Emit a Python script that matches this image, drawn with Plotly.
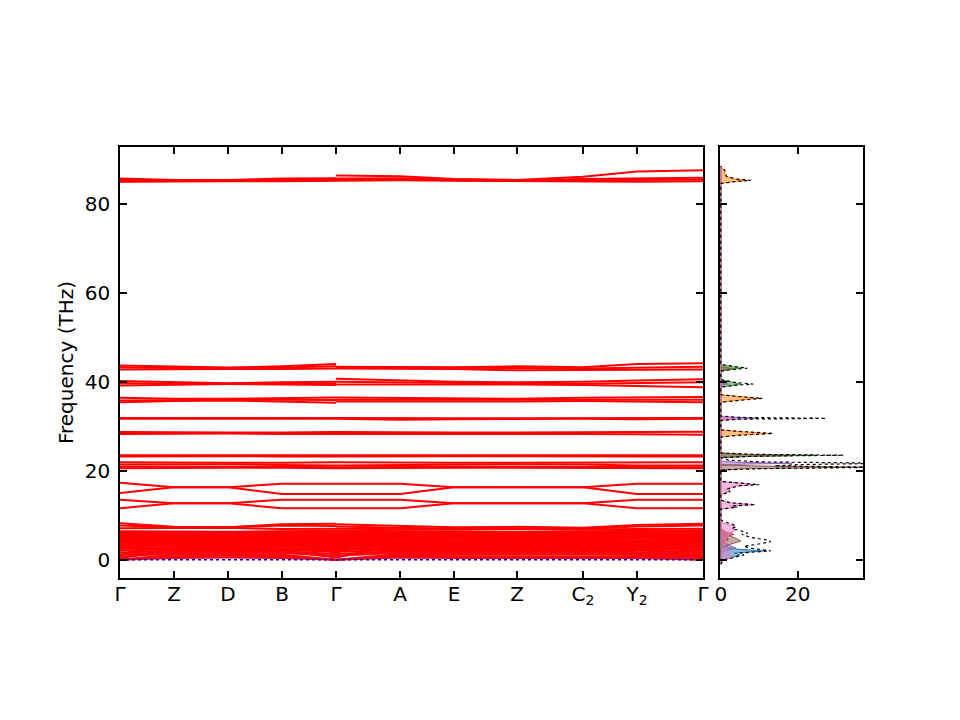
import plotly.graph_objects as go

# ---------------- data ----------------
kpt_labels = ["Γ", "Z", "D", "B", "Γ", "A", "E", "Z", "C<sub>2</sub>", "Y<sub>2</sub>", "Γ"]
kpt_dist = [0.0, 0.54, 1.08, 1.62, 2.16, 2.80, 3.34, 3.97, 4.63, 5.17, 5.83]

# band frequencies (THz) at the high-symmetry points
# segment 1: Γ-Z-D-B-Γ
bands_seg1 = [
    [85.7, 85.4, 85.4, 85.7, 85.8], [85.4, 85.3, 85.3, 85.5, 85.6],
    [85.1, 85.2, 85.2, 85.3, 85.3], [85.0, 85.1, 85.1, 85.1, 85.2],
    [43.7, 43.4, 43.2, 43.5, 44.0], [43.3, 43.1, 43.1, 43.2, 43.5],
    [42.8, 42.9, 42.9, 42.9, 43.0],
    [40.2, 39.9, 39.7, 39.9, 40.0], [39.7, 39.6, 39.6, 39.6, 39.7],
    [39.2, 39.4, 39.5, 39.4, 39.3],
    [36.4, 36.2, 36.2, 36.3, 36.5], [35.8, 35.9, 36.0, 36.0, 35.9],
    [35.4, 35.7, 35.8, 35.6, 35.3],
    [31.9, 31.9, 31.8, 31.9, 31.9], [31.7, 31.7, 31.7, 31.7, 31.7],
    [28.7, 28.6, 28.6, 28.6, 28.7], [28.3, 28.4, 28.4, 28.3, 28.3],
    [23.5, 23.5, 23.5, 23.5, 23.5], [23.2, 23.3, 23.3, 23.2, 23.2],
    [21.9, 21.8, 21.8, 21.8, 21.9], [21.4, 21.5, 21.5, 21.3, 21.2],
    [20.9, 20.9, 21.0, 20.9, 20.8], [20.6, 20.7, 20.7, 20.7, 20.6],
    [17.3, 16.3, 16.3, 17.1, 17.1], [15.0, 16.3, 16.3, 14.8, 14.8],
    [13.5, 12.7, 12.7, 13.5, 13.5], [11.6, 12.7, 12.7, 11.6, 11.6],
    [8.2, 7.4, 7.3, 8.0, 8.1], [7.7, 7.3, 7.3, 7.7, 7.6],
    [7.1, 7.2, 7.2, 6.9, 7.0],
    [0.0, 0.4, 0.5, 0.4, 0.0], [0.0, 0.8, 0.9, 0.8, 0.0],
    [0.0, 1.2, 1.3, 1.1, 0.0], [0.7, 1.5, 1.6, 1.5, 0.9],
    [1.1, 1.8, 1.9, 1.9, 1.3], [1.6, 2.1, 2.2, 2.2, 1.8],
    [2.0, 2.4, 2.5, 2.4, 2.2], [2.4, 2.7, 2.7, 2.6, 2.5],
    [2.7, 2.9, 3.0, 2.9, 2.8], [3.0, 3.2, 3.2, 3.1, 3.1],
    [3.3, 3.4, 3.5, 3.4, 3.3], [3.5, 3.7, 3.7, 3.6, 3.6],
    [3.8, 3.9, 4.0, 3.9, 3.8], [4.1, 4.2, 4.2, 4.1, 4.1],
    [4.3, 4.4, 4.5, 4.4, 4.3], [4.6, 4.7, 4.7, 4.6, 4.6],
    [4.9, 4.9, 5.0, 4.9, 4.8], [5.1, 5.2, 5.2, 5.1, 5.1],
    [5.4, 5.4, 5.5, 5.4, 5.4], [5.7, 5.7, 5.7, 5.6, 5.6],
    [5.9, 5.9, 6.0, 5.9, 5.9], [6.2, 6.1, 6.2, 6.2, 6.2],
    [6.4, 6.3, 6.3, 6.4, 6.5],
    [0.3, 2.6, 3.4, 1.9, 0.5], [1.0, 4.8, 3.2, 5.3, 1.4],
    [5.5, 4.0, 4.6, 3.6, 5.8],
]
# segment 2: Γ-A-E-Z-C2-Y2-Γ
bands_seg2 = [
    [86.4, 86.2, 85.6, 85.4, 86.1, 87.3, 87.6], [85.7, 85.8, 85.5, 85.3, 85.6, 85.8, 85.9],
    [85.4, 85.5, 85.3, 85.2, 85.3, 85.4, 85.5], [85.2, 85.3, 85.2, 85.1, 85.1, 85.0, 85.1],
    [43.4, 43.4, 43.3, 43.5, 43.3, 44.0, 44.2], [43.2, 43.2, 43.1, 43.1, 43.0, 43.2, 43.4],
    [43.0, 42.9, 42.9, 42.6, 42.7, 42.8, 42.8],
    [40.7, 40.4, 40.0, 39.9, 40.0, 40.3, 40.6], [40.0, 39.8, 39.7, 39.6, 39.6, 39.8, 39.9],
    [39.4, 39.4, 39.5, 39.4, 39.3, 39.0, 38.8],
    [36.5, 36.4, 36.2, 36.2, 36.4, 36.5, 36.6], [36.0, 36.0, 35.9, 35.9, 35.9, 36.0, 36.0],
    [35.6, 35.6, 35.5, 35.6, 35.7, 35.6, 35.4],
    [31.9, 31.8, 31.8, 31.8, 31.8, 31.9, 31.9], [31.7, 31.5, 31.6, 31.7, 31.7, 31.6, 31.7],
    [28.7, 28.6, 28.6, 28.6, 28.6, 28.7, 28.8], [28.3, 28.3, 28.4, 28.4, 28.3, 28.2, 28.1],
    [23.5, 23.5, 23.5, 23.5, 23.5, 23.5, 23.5], [23.2, 23.3, 23.3, 23.3, 23.2, 23.2, 23.2],
    [21.9, 21.8, 21.8, 21.8, 21.8, 21.9, 21.9], [21.2, 21.3, 21.4, 21.5, 21.4, 21.2, 21.2],
    [20.8, 20.9, 20.9, 20.9, 20.9, 20.8, 20.8], [20.6, 20.7, 20.7, 20.7, 20.7, 20.6, 20.6],
    [17.1, 17.1, 16.3, 16.3, 16.3, 17.1, 17.1], [14.8, 14.8, 16.3, 16.3, 16.3, 14.8, 14.8],
    [13.5, 13.5, 12.7, 12.7, 12.7, 13.5, 13.5], [11.6, 11.6, 12.7, 12.7, 12.7, 11.6, 11.6],
    [8.0, 7.7, 7.3, 7.4, 7.2, 7.8, 8.1], [7.5, 7.3, 7.0, 7.1, 7.0, 7.5, 7.7],
    [7.0, 6.9, 6.8, 6.9, 6.8, 6.9, 7.0],
    [0.0, 0.5, 0.4, 0.4, 0.5, 0.4, 0.0], [0.0, 0.9, 0.8, 0.8, 0.9, 0.8, 0.0],
    [0.0, 1.3, 1.2, 1.2, 1.3, 1.1, 0.0], [0.9, 1.6, 1.5, 1.5, 1.7, 1.4, 0.8],
    [1.3, 1.9, 1.8, 1.8, 1.9, 1.7, 1.2], [1.8, 2.2, 2.2, 2.1, 2.2, 2.1, 1.7],
    [2.2, 2.5, 2.4, 2.4, 2.5, 2.4, 2.1], [2.5, 2.7, 2.7, 2.6, 2.8, 2.6, 2.4],
    [2.8, 3.0, 2.9, 2.9, 3.0, 2.9, 2.7], [3.1, 3.2, 3.2, 3.1, 3.2, 3.2, 3.0],
    [3.3, 3.5, 3.4, 3.4, 3.5, 3.4, 3.3], [3.6, 3.7, 3.7, 3.6, 3.7, 3.7, 3.5],
    [3.8, 4.0, 3.9, 3.9, 4.0, 3.9, 3.8], [4.1, 4.2, 4.2, 4.1, 4.2, 4.2, 4.0],
    [4.4, 4.5, 4.4, 4.4, 4.5, 4.4, 4.3], [4.6, 4.7, 4.7, 4.6, 4.7, 4.7, 4.6],
    [4.9, 5.0, 4.9, 4.9, 5.0, 4.9, 4.9], [5.1, 5.2, 5.2, 5.1, 5.2, 5.2, 5.1],
    [5.4, 5.5, 5.4, 5.4, 5.5, 5.4, 5.4], [5.6, 5.7, 5.7, 5.6, 5.7, 5.7, 5.6],
    [5.9, 6.0, 5.9, 5.9, 6.0, 5.9, 5.9], [6.2, 6.2, 6.1, 6.1, 6.2, 6.2, 6.3],
    [6.5, 6.4, 6.3, 6.3, 6.4, 6.5, 6.6],
    [0.5, 3.3, 2.0, 2.8, 3.6, 1.5, 0.4], [1.6, 5.2, 4.1, 3.0, 5.5, 2.3, 1.2],
    [5.8, 3.9, 5.1, 4.3, 3.9, 5.6, 6.0],
]
zero_freq = [0.0, 0.0]

# density of states (states/THz) vs frequency (THz)
tot_f = [-1.0, 0.0, 0.4, 1.1, 1.5, 2.0, 2.6, 3.0, 3.7, 4.1, 4.5, 5.0, 5.7, 6.0, 6.4, 7.0, 7.5, 8.0, 8.5, 9.0,
         11.4, 11.8, 12.1, 12.4, 12.8, 13.4, 14.6, 15.3, 15.8, 16.2, 16.6, 16.9, 17.3, 17.6,
         20.2, 20.5, 20.8, 21.1, 21.4, 21.7, 22.0, 22.4, 23.0, 23.3, 23.5, 23.7, 24.0,
         27.6, 28.0, 28.4, 28.8, 29.2, 31.3, 31.6, 31.8, 32.0, 32.3,
         35.4, 35.8, 36.3, 36.7, 37.1, 38.8, 39.2, 39.5, 39.9, 40.5,
         42.4, 42.8, 43.1, 43.4, 43.9, 84.6, 85.0, 85.3, 85.6, 86.2, 87.0, 87.6, 88.2, 88.5]
tot_v = [0, 0.8, 3, 6, 5, 13, 7.8, 6, 11, 13, 11.7, 8, 5.5, 7, 5.7, 3, 4, 3, 1, 0,
         0, 4.3, 3, 9.0, 2.5, 0, 0, 2.5, 1.5, 3, 4.5, 10, 3, 0,
         0, 12, 42, 14, 20, 45, 10, 2, 0, 10, 32, 9, 0,
         0, 5, 13.6, 6, 0, 0, 4, 27.4, 5, 0,
         0, 4.5, 10.8, 4.5, 0, 0, 3.5, 8.4, 3.5, 0,
         0, 3, 6.9, 4, 0, 0, 3.5, 7.8, 4, 1.5, 1.3, 1, 0.3, 0]

blue_f = [-0.5, 0.0, 0.4, 1.1, 1.5, 2.0, 2.4, 2.8, 3.4]
blue_v = [0, 0.5, 2.5, 5, 3.5, 11, 4, 2, 0]
red_f = [3.5, 4.5, 5.2, 5.7, 6.2, 7.0]
red_v = [0, 2, 1.5, 3.4, 1.5, 0]
brown_f = [-1, 2.5, 3.5, 4.2, 4.8, 5.5, 6.5, 20.2, 20.5, 20.8, 21.1, 21.4, 22.9, 23.2, 23.4, 23.7, 24.0,
           42.6, 43.0, 43.4, 88.5]
brown_v = [0, 0, 2.5, 5.2, 4.0, 2.0, 0, 0, 8, 36.8, 8, 0, 0, 6, 18.6, 5, 0, 0, 3, 0, 0]
purple_f = [-1, 1.8, 2.6, 3.4, 4.0, 21.2, 21.5, 21.7, 21.9, 22.2, 31.4, 31.6, 31.8, 32.0, 32.2,
            39.2, 39.5, 39.8, 88.5]
purple_v = [0, 0, 4, 2, 0, 0, 6, 18.6, 5, 0, 0, 3, 9.9, 3, 0, 0, 2, 0, 0]
green_f = [-1, 23.0, 23.3, 23.5, 23.7, 24.0, 38.8, 39.2, 39.5, 39.9, 40.5, 42.4, 42.8, 43.1, 43.4, 43.9, 88.5]
green_v = [0, 0, 8, 24.7, 6, 0, 0, 3, 5.2, 3, 0, 0, 2.5, 5.2, 3, 0, 0]
orange_f = [-1.0, 27.6, 28.0, 28.4, 28.8, 29.2, 35.4, 35.8, 36.3, 36.7, 37.1,
            84.6, 85.0, 85.3, 85.6, 86.2, 87.0, 87.6, 88.2, 88.5]
orange_v = [0, 0, 4.0, 12.5, 5.0, 0, 0, 3.5, 9.5, 4.0, 0,
            0, 3.0, 7.0, 3.5, 1.2, 1.0, 0.8, 0.2, 0]
pink_f = [-1, 0.0, 0.5, 1.5, 3.0, 5.0, 6.0, 6.6, 7.0, 7.5, 8.0, 8.5, 11.4, 11.8, 12.1, 12.4, 12.8, 13.4,
          14.6, 15.3, 15.8, 16.2, 16.6, 16.9, 17.3, 17.6, 31.3, 31.8, 32.3, 88.5]
pink_v = [0, 0, 3, 2, 1, 1.5, 2.5, 3.8, 3.0, 3.5, 1.5, 0, 0, 4.0, 2.5, 8.8, 2.0, 0,
          0, 2.0, 1.0, 2.5, 4.0, 9.5, 2.5, 0, 0, 3.9, 0, 0]

partials = [
    (blue_f, blue_v, "31,119,180"),
    (orange_f, orange_v, "255,127,14"),
    (green_f, green_v, "44,160,44"),
    (red_f, red_v, "214,39,40"),
    (purple_f, purple_v, "148,103,189"),
    (brown_f, brown_v, "140,86,75"),
    (pink_f, pink_v, "227,119,194"),
]

# ---------------- figure ----------------
fig = go.Figure()

def band_trace(bands, xs):
    X, Y = [], []
    for b in bands:
        X += list(xs) + [None]
        Y += list(b) + [None]
    return X, Y

for bands, xs in ((bands_seg1, kpt_dist[0:5]), (bands_seg2, kpt_dist[4:11])):
    X, Y = band_trace(bands, xs)
    fig.add_trace(go.Scatter(x=X, y=Y, mode="lines", line=dict(color="#ff0000", width=2),
                             hoverinfo="skip", showlegend=False, xaxis="x", yaxis="y"))

fig.add_trace(go.Scatter(x=[kpt_dist[0], kpt_dist[-1]], y=zero_freq, mode="lines",
                         line=dict(color="#0000ff", width=1.5, dash="dot"),
                         showlegend=False, xaxis="x", yaxis="y"))

for f, v, rgb in partials:
    fig.add_trace(go.Scatter(x=v, y=f, mode="lines", fill="tozerox",
                             fillcolor=f"rgba({rgb},0.5)", line=dict(color=f"rgb({rgb})", width=1),
                             showlegend=False, xaxis="x2", yaxis="y2"))

fig.add_trace(go.Scatter(x=tot_v, y=tot_f, mode="lines",
                         line=dict(color="black", width=1.2, dash="dot"),
                         showlegend=False, xaxis="x2", yaxis="y2"))

W, H = 960, 720
y_dom = [1 - 578 / H, 1 - 147 / H]
yrange = [-4.1, 92.8]
font = dict(family="DejaVu Sans", size=20, color="black")

common = dict(showline=True, linecolor="black", linewidth=1.5, mirror="allticks",
              ticks="inside", ticklen=7, tickwidth=1.5, tickcolor="black",
              showgrid=False, zeroline=False, tickfont=font)

fig.update_layout(
    width=W, height=H, margin=dict(l=0, r=0, t=0, b=0, autoexpand=False),
    paper_bgcolor="white", plot_bgcolor="white", font=font,
    xaxis=dict(domain=[120 / W, 703 / W], range=[kpt_dist[0], kpt_dist[-1]],
               tickmode="array", tickvals=kpt_dist, ticktext=kpt_labels, anchor="y",
               ticklabelstandoff=-3, automargin=False, **common),
    yaxis=dict(domain=y_dom, range=yrange, tickmode="array", tickvals=[0, 20, 40, 60, 80],
               title=dict(text="Frequency (THz)", font=font, standoff=6), anchor="x",
               ticklabelstandoff=4, automargin=False, **common),
    xaxis2=dict(domain=[720 / W, 863 / W], range=[-0.2, 37.0], tickmode="array",
                tickvals=[0, 20], anchor="y2", ticklabelstandoff=-3, automargin=False, **common),
    yaxis2=dict(domain=y_dom, range=yrange, tickmode="array", tickvals=[0, 20, 40, 60, 80],
                showticklabels=False, anchor="x2", automargin=False, **common),
)

fig.write_html("out.html", config={"displayModeBar": False},
               post_script="document.body.style.margin='0px';")
